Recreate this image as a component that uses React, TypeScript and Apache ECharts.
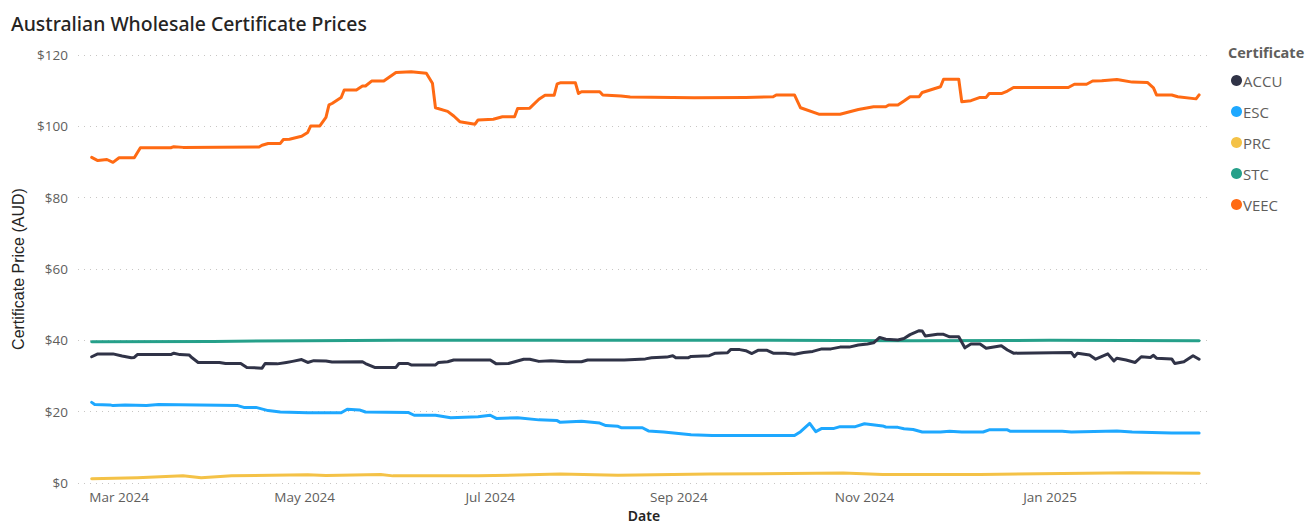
import React, { useEffect, useRef } from "react";
import * as echarts from "echarts";

const seriesNames = ["ACCU", "ESC", "PRC", "STC", "VEEC"];
const seriesColors = ["#303347", "#1EA8FF", "#F4C247", "#26A08A", "#FF6A13"];

const accuData: [string, number][] = [
  ["2024-02-21", 35.4], ["2024-02-23", 36.2], ["2024-02-28", 36.2], ["2024-03-02", 35.6], ["2024-03-05", 35.1],
  ["2024-03-06", 35.2], ["2024-03-07", 36.0], ["2024-03-18", 36.0], ["2024-03-19", 36.4], ["2024-03-21", 36.0],
  ["2024-03-24", 35.9], ["2024-03-25", 35.1], ["2024-03-27", 33.8], ["2024-04-03", 33.8], ["2024-04-05", 33.5],
  ["2024-04-10", 33.5], ["2024-04-12", 32.4], ["2024-04-17", 32.2], ["2024-04-18", 33.5], ["2024-04-22", 33.4],
  ["2024-04-25", 33.8], ["2024-04-27", 34.1], ["2024-04-30", 34.6], ["2024-05-02", 33.8], ["2024-05-04", 34.3],
  ["2024-05-08", 34.2], ["2024-05-10", 33.9], ["2024-05-20", 34.0], ["2024-05-21", 33.5], ["2024-05-24", 32.4],
  ["2024-05-31", 32.4], ["2024-06-01", 33.5], ["2024-06-04", 33.5], ["2024-06-05", 33.1], ["2024-06-13", 33.1],
  ["2024-06-14", 33.8], ["2024-06-17", 34.0], ["2024-06-19", 34.5], ["2024-07-01", 34.5], ["2024-07-03", 33.4],
  ["2024-07-07", 33.5], ["2024-07-12", 34.7], ["2024-07-14", 34.7], ["2024-07-17", 34.1], ["2024-07-21", 34.3],
  ["2024-07-26", 34.0], ["2024-07-31", 34.0], ["2024-08-02", 34.5], ["2024-08-14", 34.5], ["2024-08-21", 34.8],
  ["2024-08-23", 35.1], ["2024-08-28", 35.3], ["2024-08-30", 35.7], ["2024-08-31", 35.1], ["2024-09-04", 35.1],
  ["2024-09-05", 35.5], ["2024-09-11", 35.7], ["2024-09-13", 36.4], ["2024-09-17", 36.5], ["2024-09-18", 37.4],
  ["2024-09-21", 37.4], ["2024-09-23", 37.1], ["2024-09-25", 36.3], ["2024-09-27", 37.2], ["2024-09-30", 37.2],
  ["2024-10-02", 36.4], ["2024-10-06", 36.4], ["2024-10-09", 36.1], ["2024-10-12", 36.6], ["2024-10-15", 36.9],
  ["2024-10-18", 37.6], ["2024-10-21", 37.6], ["2024-10-24", 38.1], ["2024-10-27", 38.1], ["2024-10-30", 38.7],
  ["2024-11-02", 39.0], ["2024-11-04", 39.3], ["2024-11-06", 40.8], ["2024-11-08", 40.3], ["2024-11-12", 40.1],
  ["2024-11-14", 40.5], ["2024-11-16", 41.6], ["2024-11-19", 42.7], ["2024-11-20", 42.6], ["2024-11-21", 41.2],
  ["2024-11-25", 41.7], ["2024-11-27", 41.7], ["2024-11-29", 41.0], ["2024-12-02", 41.0], ["2024-12-04", 37.9],
  ["2024-12-06", 39.0], ["2024-12-09", 39.0], ["2024-12-11", 37.8], ["2024-12-16", 38.5], ["2024-12-18", 37.3],
  ["2024-12-20", 36.4], ["2025-01-08", 36.6], ["2025-01-09", 35.4], ["2025-01-10", 36.4], ["2025-01-14", 35.9],
  ["2025-01-16", 34.7], ["2025-01-20", 36.2], ["2025-01-22", 34.2], ["2025-01-23", 35.0], ["2025-01-26", 34.5],
  ["2025-01-29", 33.8], ["2025-01-31", 35.4], ["2025-02-03", 35.2], ["2025-02-04", 35.8], ["2025-02-05", 35.0],
  ["2025-02-10", 34.8], ["2025-02-11", 33.5], ["2025-02-14", 34.0], ["2025-02-17", 35.7], ["2025-02-19", 34.7],
];

const escData: [string, number][] = [
  ["2024-02-21", 22.6], ["2024-02-22", 22.0], ["2024-02-27", 21.9], ["2024-02-28", 21.7], ["2024-03-03", 21.9],
  ["2024-03-10", 21.7], ["2024-03-14", 22.0], ["2024-04-03", 21.8], ["2024-04-09", 21.7], ["2024-04-11", 21.2],
  ["2024-04-15", 21.2], ["2024-04-19", 20.3], ["2024-04-23", 19.9], ["2024-05-02", 19.7], ["2024-05-13", 19.7],
  ["2024-05-15", 20.7], ["2024-05-19", 20.5], ["2024-05-21", 19.9], ["2024-06-04", 19.8], ["2024-06-06", 19.0],
  ["2024-06-13", 19.0], ["2024-06-18", 18.3], ["2024-06-27", 18.6], ["2024-07-01", 19.0], ["2024-07-03", 18.1],
  ["2024-07-10", 18.3], ["2024-07-17", 17.7], ["2024-07-23", 17.5], ["2024-07-24", 17.0], ["2024-07-31", 17.3],
  ["2024-08-06", 16.8], ["2024-08-08", 16.1], ["2024-08-12", 15.9], ["2024-08-13", 15.5], ["2024-08-20", 15.5],
  ["2024-08-22", 14.6], ["2024-08-27", 14.3], ["2024-09-05", 13.5], ["2024-09-12", 13.3], ["2024-10-09", 13.3],
  ["2024-10-11", 14.4], ["2024-10-14", 16.7], ["2024-10-16", 14.4], ["2024-10-18", 15.3], ["2024-10-22", 15.3],
  ["2024-10-24", 15.8], ["2024-10-29", 15.8], ["2024-11-01", 16.6], ["2024-11-07", 16.0], ["2024-11-08", 15.7],
  ["2024-11-12", 15.6], ["2024-11-14", 15.2], ["2024-11-17", 15.0], ["2024-11-20", 14.3], ["2024-11-26", 14.3],
  ["2024-11-29", 14.5], ["2024-12-03", 14.3], ["2024-12-10", 14.3], ["2024-12-12", 14.9], ["2024-12-18", 14.9],
  ["2024-12-19", 14.5], ["2025-01-05", 14.5], ["2025-01-08", 14.3], ["2025-01-23", 14.6], ["2025-01-28", 14.3],
  ["2025-02-10", 14.0], ["2025-02-19", 14.0],
];

const prcData: [string, number][] = [
  ["2024-02-21", 1.2], ["2024-03-07", 1.5], ["2024-03-22", 2.0], ["2024-03-28", 1.5], ["2024-04-07", 2.0],
  ["2024-05-02", 2.3], ["2024-05-08", 2.1], ["2024-05-26", 2.4], ["2024-05-30", 2.0], ["2024-06-27", 2.0],
  ["2024-07-24", 2.5], ["2024-08-12", 2.2], ["2024-09-11", 2.5], ["2024-10-25", 2.8], ["2024-11-07", 2.4],
  ["2024-12-09", 2.4], ["2025-01-28", 2.9], ["2025-02-19", 2.7],
];

const stcData: [string, number][] = [
  ["2024-02-21", 39.6], ["2024-04-01", 39.7], ["2024-05-01", 39.9], ["2024-06-01", 40.0], ["2024-08-01", 40.0],
  ["2024-10-01", 40.0], ["2024-11-15", 39.9], ["2025-01-01", 40.0], ["2025-02-19", 39.9],
];

const veecData: [string, number][] = [
  ["2024-02-21", 91.3], ["2024-02-23", 90.4], ["2024-02-26", 90.7], ["2024-02-28", 89.9], ["2024-03-01", 91.2],
  ["2024-03-06", 91.2], ["2024-03-08", 94.0], ["2024-03-18", 94.0], ["2024-03-19", 94.3], ["2024-03-22", 94.1],
  ["2024-04-16", 94.2], ["2024-04-17", 94.7], ["2024-04-19", 95.2], ["2024-04-23", 95.2], ["2024-04-24", 96.3],
  ["2024-04-26", 96.4], ["2024-04-30", 97.2], ["2024-05-02", 98.3], ["2024-05-03", 100.1], ["2024-05-06", 100.1],
  ["2024-05-08", 102.5], ["2024-05-09", 106.0], ["2024-05-10", 106.4], ["2024-05-13", 108.1], ["2024-05-14", 110.2],
  ["2024-05-18", 110.2], ["2024-05-20", 111.3], ["2024-05-21", 111.3], ["2024-05-23", 112.7], ["2024-05-27", 112.7],
  ["2024-05-29", 113.9], ["2024-05-31", 115.1], ["2024-06-05", 115.3], ["2024-06-10", 114.9], ["2024-06-12", 112.1],
  ["2024-06-13", 105.2], ["2024-06-17", 104.2], ["2024-06-19", 102.9], ["2024-06-21", 101.3], ["2024-06-26", 100.6],
  ["2024-06-27", 101.8], ["2024-07-02", 102.0], ["2024-07-05", 102.7], ["2024-07-09", 102.7], ["2024-07-10", 105.0],
  ["2024-07-14", 105.1], ["2024-07-17", 107.6], ["2024-07-19", 108.7], ["2024-07-22", 108.7], ["2024-07-23", 111.9],
  ["2024-07-24", 112.2], ["2024-07-29", 112.2], ["2024-07-30", 109.2], ["2024-07-31", 109.7], ["2024-08-06", 109.7],
  ["2024-08-07", 108.8], ["2024-08-13", 108.5], ["2024-08-16", 108.2], ["2024-09-06", 108.0], ["2024-09-23", 108.1],
  ["2024-10-02", 108.3], ["2024-10-03", 108.8], ["2024-10-09", 108.8], ["2024-10-11", 105.2], ["2024-10-17", 103.4],
  ["2024-10-24", 103.4], ["2024-10-30", 104.7], ["2024-11-04", 105.5], ["2024-11-08", 105.5], ["2024-11-09", 106.0],
  ["2024-11-12", 106.0], ["2024-11-14", 107.1], ["2024-11-16", 108.3], ["2024-11-19", 108.3], ["2024-11-20", 109.5],
  ["2024-11-26", 111.1], ["2024-11-27", 113.2], ["2024-12-02", 113.2], ["2024-12-03", 106.9], ["2024-12-06", 107.2],
  ["2024-12-09", 108.1], ["2024-12-11", 108.1], ["2024-12-12", 109.2], ["2024-12-16", 109.2], ["2024-12-18", 109.9],
  ["2024-12-20", 110.9], ["2025-01-07", 110.9], ["2025-01-09", 111.8], ["2025-01-13", 111.8], ["2025-01-15", 112.7],
  ["2025-01-18", 112.8], ["2025-01-23", 113.1], ["2025-01-24", 113.0], ["2025-01-28", 112.4], ["2025-02-02", 112.3],
  ["2025-02-04", 110.8], ["2025-02-05", 108.8], ["2025-02-10", 108.8], ["2025-02-12", 108.3], ["2025-02-18", 107.7],
  ["2025-02-19", 108.8],
];

const seriesData = [accuData, escData, prcData, stcData, veecData];

const xTickDates = ["2024-03-01", "2024-05-01", "2024-07-01", "2024-09-01", "2024-11-01", "2025-01-01"];
const xTickLabels = ["Mar 2024", "May 2024", "Jul 2024", "Sep 2024", "Nov 2024", "Jan 2025"];
const xMin = "2024-02-16T12:00";
const xMax = "2025-02-22T14:00";
const yMin = 0;
const yMax = 120;
const yStep = 20;

const toTs = (s: string) => {
  const [d, t] = s.split("T");
  const [y, m, day] = d.split("-").map(Number);
  let hh = 0, mm = 0;
  if (t) { const p = t.split(":").map(Number); hh = p[0]; mm = p[1]; }
  return Date.UTC(y, m - 1, day, hh, mm);
};

export default function App() {
  const ref = useRef<HTMLDivElement>(null);
  useEffect(() => {
    if (!ref.current) return;
    const chart = echarts.init(ref.current, undefined, { renderer: "svg" });
    const tickTs = xTickDates.map(toTs);
    const uiFont = "'Open Sans', 'Noto Sans', sans-serif";
    chart.setOption({
      animation: false,
      backgroundColor: "#ffffff",
      title: {
        text: "Australian Wholesale Certificate Prices",
        left: 6,
        top: 9,
        textStyle: { fontFamily: "'Noto Sans', sans-serif", fontSize: 19.4, fontWeight: 500, color: "#252423" },
      },
      graphic: [
        {
          type: "text",
          left: 1228,
          top: 45,
          style: { text: "Certificate", fontFamily: uiFont, fontSize: 14.5, fontWeight: "bold", fill: "#605E5C" },
        },
      ],
      legend: {
        orient: "vertical",
        left: 1226,
        top: 67,
        icon: "circle",
        itemWidth: 11,
        itemHeight: 11,
        itemGap: 14,
        textStyle: { fontFamily: uiFont, fontSize: 15, color: "#605E5C", padding: [0, 0, 0, -4], lineHeight: 17 },
        data: seriesNames,
      },
      grid: { left: 78, right: 99, top: 55, bottom: 41, containLabel: false, outerBoundsMode: "none" },
      xAxis: {
        type: "value",
        min: toTs(xMin),
        max: toTs(xMax),
        name: "Date",
        nameLocation: "middle",
        nameGap: 21,
        nameTextStyle: { fontFamily: "'Noto Sans', sans-serif", fontSize: 14, fontWeight: 600, color: "#252423", lineHeight: 14 },
        axisLine: { show: false },
        axisTick: { show: false },
        splitLine: { show: false },
        axisLabel: {
          customValues: tickTs,
          margin: 7,
          fontFamily: uiFont,
          fontSize: 13.5,
          color: "#605E5C",
          formatter: (v: number) => {
            const i = tickTs.findIndex((t) => Math.abs(t - v) < 43200000);
            return i >= 0 ? xTickLabels[i] : "";
          },
        },
      },
      yAxis: {
        type: "value",
        min: yMin,
        max: yMax,
        interval: yStep,
        name: "Certificate Price (AUD)",
        nameLocation: "middle",
        nameRotate: 90,
        nameGap: 50,
        nameTextStyle: { fontFamily: "'Liberation Sans', Arial, sans-serif", fontSize: 16, color: "#252423" },
        axisLine: { show: false },
        axisTick: { show: false },
        axisLabel: {
          margin: 10,
          fontFamily: uiFont,
          fontSize: 13.5,
          color: "#605E5C",
          formatter: (v: number) => "$" + v,
        },
        splitLine: { show: true, lineStyle: { color: "#C8C6C4", width: 1, type: [1, 5] } },
      },
      series: seriesNames.map((name, i) => ({
        name,
        type: "line",
        showSymbol: false,
        symbol: "circle",
        color: seriesColors[i],
        lineStyle: { width: 3, color: seriesColors[i], join: "round", cap: "round" },
        data: seriesData[i].map(([d, v]) => [toTs(d), v]),
        z: i === 3 ? 1 : 2,
      })),
    });
    return () => chart.dispose();
  }, []);
  return <div ref={ref} style={{ position: "fixed", left: 0, top: 0, width: 1309, height: 524 }} />;
}
